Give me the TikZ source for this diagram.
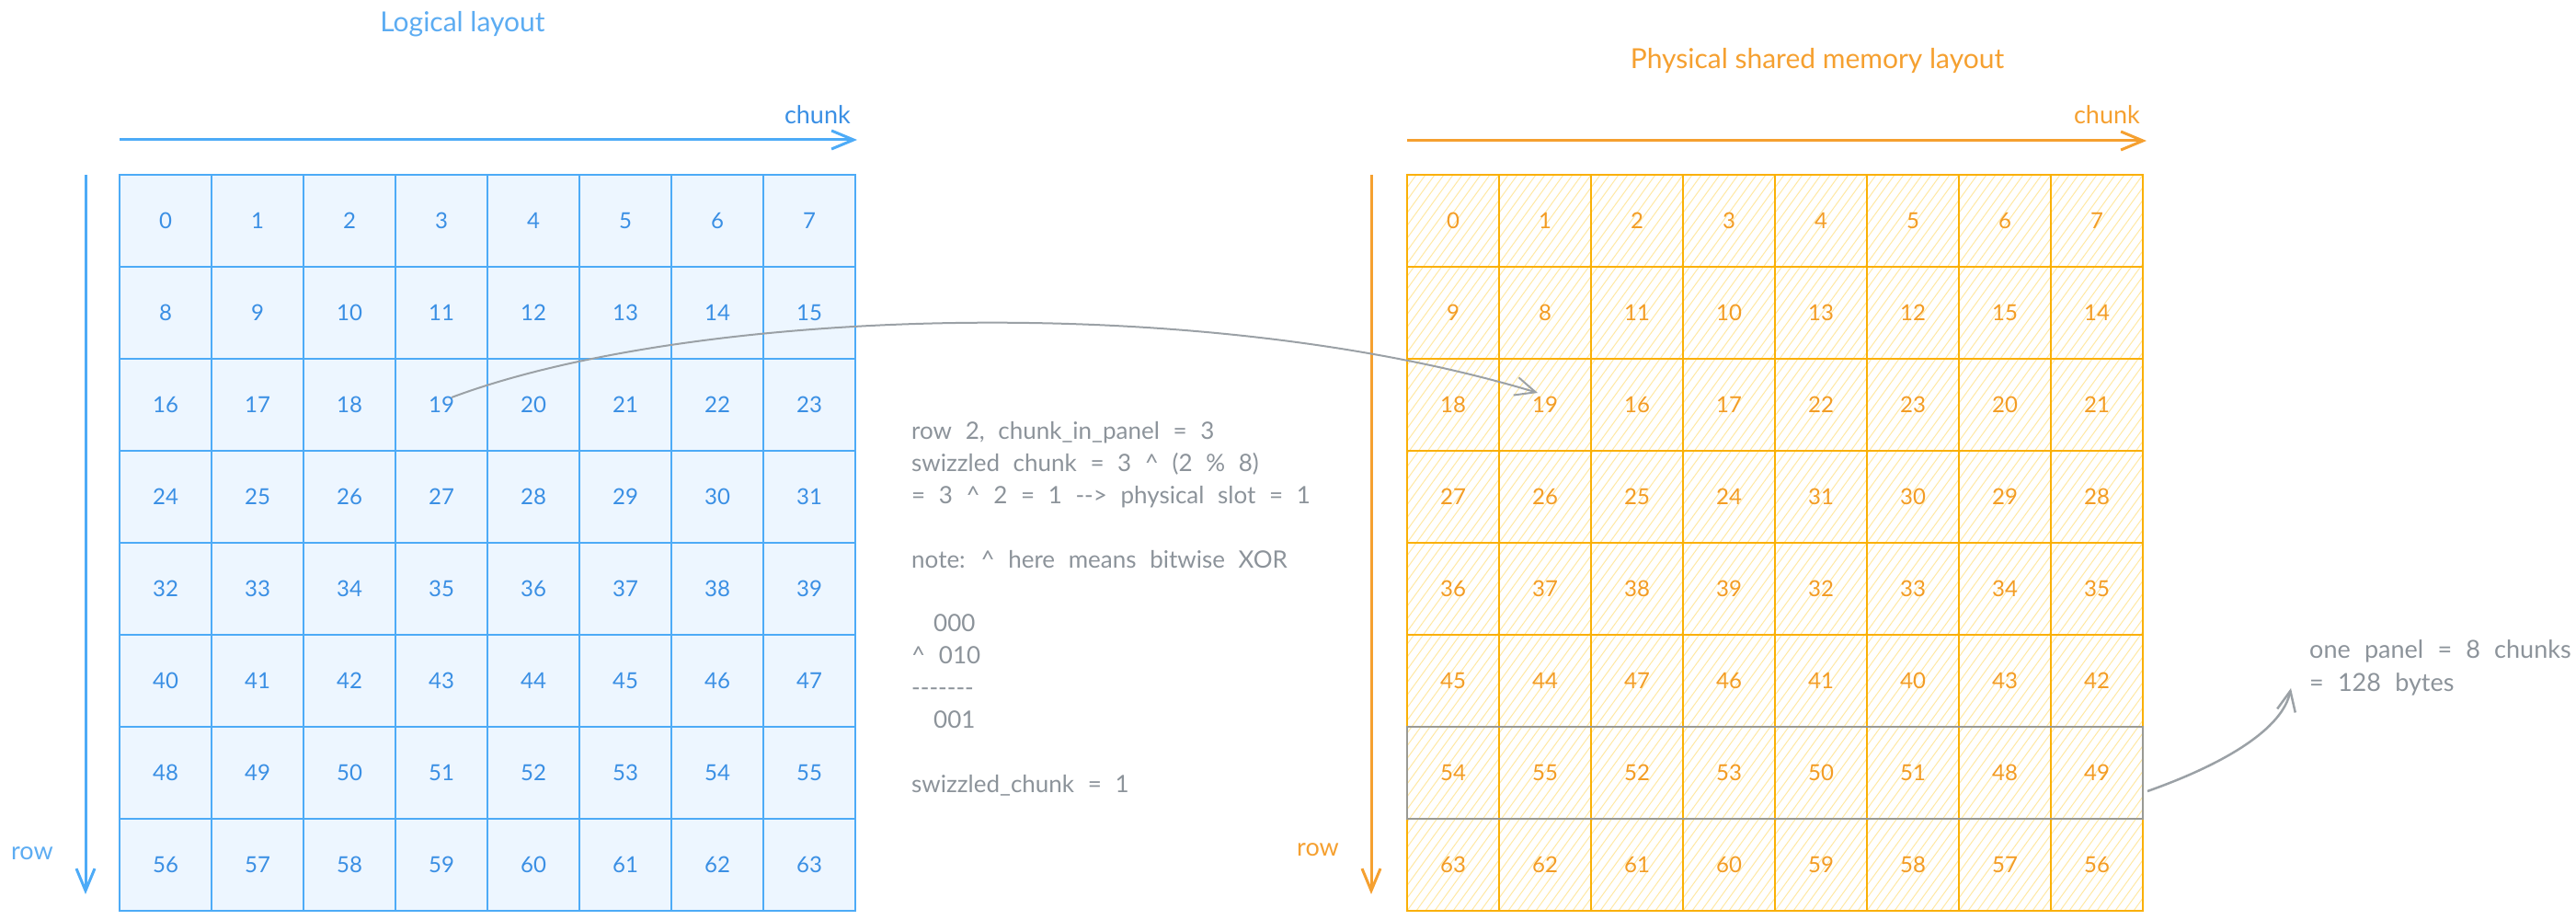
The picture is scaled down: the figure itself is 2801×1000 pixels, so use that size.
\documentclass[tikz,border=0pt]{standalone}
\usepackage{fontspec}
\setmainfont{Lato}
\newfontfamily\grayfont{Lato}[WordSpace=2.2]
\usetikzlibrary{arrows.meta,calc}
\definecolor{blueline}{HTML}{4DABF7}
\definecolor{bluefill}{HTML}{EDF6FF}
\definecolor{bluetext}{HTML}{3A8FE4}
\definecolor{bluetitle}{HTML}{5CACF2}
\definecolor{orangeline}{HTML}{FAB005}
\definecolor{hatchc}{HTML}{FFE8A3}
\definecolor{orangetext}{HTML}{F39C24}
\definecolor{orangetitle}{HTML}{F5A030}
\definecolor{graytext}{HTML}{8C939A}
\definecolor{grayarrow}{HTML}{9BA1A6}
\definecolor{panelgray}{HTML}{9A9A94}
\tikzset{
  lcell/.style={draw=blueline, line width=2pt, minimum width=100pt, minimum height=100pt, inner sep=0pt, text=bluetext, font=\fontsize{24}{28}\selectfont},
  pcell/.style={draw=orangeline, line width=2pt, minimum width=100pt, minimum height=100pt, inner sep=0pt, text=orangetext, font=\fontsize{24}{28}\selectfont},
  hatchline/.style={draw=hatchc, line width=1pt},
  axisblue/.style={draw=blueline, line width=3pt, -{Straight Barb[length=24pt,width=20pt]}},
  axisorange/.style={draw=orangetitle, line width=3pt, -{Straight Barb[length=24pt,width=20pt]}},
  grayconn/.style={draw=grayarrow, line width=2pt, -{Straight Barb[length=22pt,width=20pt]}},
  graylbl/.style={text=graytext, inner sep=0pt, font=\grayfont\fontsize{26}{35}\selectfont},
  notelbl/.style={text=graytext, inner sep=0pt, font=\grayfont\fontsize{27}{35}\selectfont},
  axislbl/.style={inner sep=0pt, font=\fontsize{27}{30}\selectfont},
  titlelbl/.style={inner sep=0pt, font=\fontsize{30}{34}\selectfont},
}
\begin{document}
\begin{tikzpicture}[x=1pt,y=-1pt]
\useasboundingbox (0,0) rectangle (2801,1000);

% titles
\node[titlelbl, text=bluetitle, anchor=base] (ltitle) at (503,35) {Logical layout};
\node[titlelbl, text=orangetitle, anchor=base] (ptitle) at (1976,75) {Physical shared memory layout};

% axis labels
\node[axislbl, text=bluetext, anchor=base east] (lchunk) at (925,135) {chunk};
\node[axislbl, text=orangetitle, anchor=base east] (pchunk) at (2327,135) {chunk};
\node[axislbl, text=bluetitle, anchor=base west] (lrow) at (12,934) {row};
\node[axislbl, text=orangetitle, anchor=base west] (prow) at (1410,930) {row};

% axis arrows
\coordinate (lh-s) at (130,152); \coordinate (lh-e) at (932,152);
\coordinate (lv-s) at (93,190);  \coordinate (lv-e) at (93,972);
\coordinate (ph-s) at (1530,153); \coordinate (ph-e) at (2334,153);
\coordinate (pv-s) at (1491,190); \coordinate (pv-e) at (1491,972);
\draw[axisblue] (lh-s) -- (lh-e);
\draw[axisblue] (lv-s) -- (lv-e);
\draw[axisorange] (ph-s) -- (ph-e);
\draw[axisorange] (pv-s) -- (pv-e);

% left grid
\fill[bluefill] (130,190) rectangle (930,990);
\foreach \r in {0,...,7}{
  \foreach \c in {0,...,7}{
    \pgfmathtruncatemacro\n{8*\r+\c}
    \node[lcell] (L-\r-\c) at ({180+100*\c},{240+100*\r}) {\n};
  }
}

% right grid hatch
\begin{scope}
  \clip (1530,190) rectangle (2330,990);
  \foreach \i in {0,...,142}{
    \draw[hatchline] ({950+10*\i},990) -- ++(580,-800);
  }
\end{scope}
\foreach \r in {0,...,7}{
  \foreach \c in {0,...,7}{
    \pgfmathtruncatemacro\x{mod(\c+\r,2)+2*mod(floor(\c/2)+floor(\r/2),2)+4*mod(floor(\c/4)+floor(\r/4),2)}
    \pgfmathtruncatemacro\n{8*\r+\x}
    \node[pcell] (P-\r-\c) at ({1580+100*\c},{240+100*\r}) {\n};
  }
}

% highlighted panel
\node[draw=panelgray, line width=2pt, minimum width=800pt, minimum height=100pt, inner sep=0pt] (panel) at (1930,840) {};

% explanation text
\node[graylbl, anchor=base west] (e1) at (991,477) {row 2, chunk\_in\_panel = 3};
\node[graylbl, anchor=base west] (e2) at (991,512) {swizzled chunk = 3 \^{} (2 \% 8)};
\node[graylbl, anchor=base west] (e3) at (991,547) {= 3 \^{} 2 = 1 -{}-> physical slot = 1};
\node[graylbl, anchor=base west] (e4) at (991,617) {note: \^{} here means bitwise XOR};
\node[graylbl, anchor=base west] (e5) at (1015,686) {000};
\node[graylbl, anchor=base west] (e6) at (991,721) {\^{} 010};
\node[graylbl, anchor=base west] (e7) at (991,756) {-{}-{}-{}-{}-{}-{}-};
\node[graylbl, anchor=base west] (e8) at (1015,791) {001};
\node[graylbl, anchor=base west] (e9) at (991,861) {swizzled\_chunk = 1};

% panel note
\node[notelbl, anchor=base west] (n1) at (2511,715) {one panel = 8 chunks};
\node[notelbl, anchor=base west] (n2) at (2511,751) {= 128 bytes};

% connectors
\draw[grayconn] ([xshift=11pt,yshift=8pt]L-2-3.center) .. controls (750,335) and (1300,315) .. ([xshift=-8pt,yshift=13pt]P-2-1.center);
\coordinate (pa-end) at (2491,748);
\draw[grayconn, line width=2.5pt] ([xshift=4pt,yshift=-20pt]panel.east) .. controls (2420,830) and (2482,792) .. (pa-end);
\end{tikzpicture}
\end{document}
